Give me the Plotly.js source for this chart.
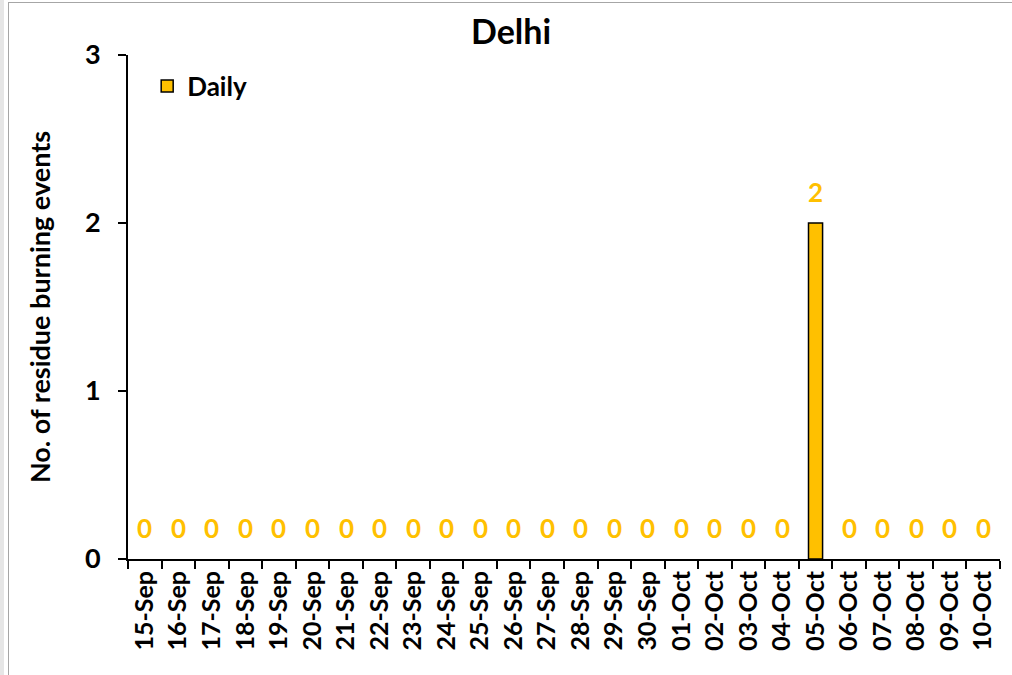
<!DOCTYPE html>
<html>
<head>
<meta charset="utf-8">
<script src="https://cdn.plot.ly/plotly-3.0.1.min.js"></script>
<style>
html,body{margin:0;padding:0;background:#fff;}
#wrap{position:relative;width:1012px;height:675px;}
#chart{width:1012px;height:675px;}
#frame{position:absolute;left:8px;top:2px;width:1010px;height:680px;border:1px solid #a6a6a6;pointer-events:none;box-sizing:border-box;}
#strip{position:absolute;left:0;top:0;width:4px;height:675px;background:#e6e6e6;}
</style>
</head>
<body>
<div id="wrap">
<div id="chart"></div>
<div id="strip"></div>
<div id="frame"></div>
</div>
<script>
const categories = ["15-Sep","16-Sep","17-Sep","18-Sep","19-Sep","20-Sep","21-Sep","22-Sep","23-Sep","24-Sep","25-Sep","26-Sep","27-Sep","28-Sep","29-Sep","30-Sep","01-Oct","02-Oct","03-Oct","04-Oct","05-Oct","06-Oct","07-Oct","08-Oct","09-Oct","10-Oct"];
const dailyValues = [0,0,0,0,0,0,0,0,0,0,0,0,0,0,0,0,0,0,0,0,2,0,0,0,0,0];
const yTicks = [0,1,2,3];
const seriesName = "Daily";
const chartTitle = "Delhi";
const yTitle = "No. of residue burning events";

const FONT = "Lato, 'Open Sans', sans-serif";
const GOLD = "#FFC000";

const trace = {
  type: "bar",
  x: categories,
  y: dailyValues,
  name: seriesName,
  showlegend: false,
  width: 0.42,
  marker: {color: GOLD, line: {color: "#000", width: dailyValues.map(v => v > 0 ? 1.5 : 0)}},
  hoverinfo: "x+y"
};

// legend entry for the same series (no visible marks of its own)
const legendTrace = {
  type: "bar",
  x: [categories[0]],
  y: [null],
  name: seriesName,
  showlegend: true,
  marker: {color: GOLD, line: {color: "#000", width: 1.5}},
  hoverinfo: "skip"
};

const annotations = categories.map((c, i) => ({
  x: c, y: dailyValues[i], xref: "x", yref: "y",
  text: "<b>" + String(dailyValues[i]) + "</b>",
  showarrow: false, yanchor: "bottom", yshift: 13,
  font: {family: FONT, size: 26, color: GOLD}
}));

const layout = {
  width: 1012, height: 675,
  margin: {l: 128, r: 12, t: 55, b: 116, pad: 0},
  paper_bgcolor: "#fff", plot_bgcolor: "#fff",
  title: {text: "<b>" + chartTitle + "</b>", x: 0.505, xanchor: "center", y: 0.953, yanchor: "middle",
          font: {family: FONT, size: 34, color: "#000"}},
  showlegend: true,
  barmode: "overlay",
  legend: {x: 0.022, y: 0.985, xanchor: "left", yanchor: "top", bgcolor: "rgba(0,0,0,0)",
           font: {family: FONT, size: 26, color: "#000", weight: "bold"}, itemwidth: 30},
  xaxis: {
    type: "category", tickson: "boundaries", ticks: "outside", ticklen: 8, tickwidth: 2, tickcolor: "#000",
    showline: true, linecolor: "#000", linewidth: 2, showgrid: false, zeroline: false,
    tickangle: -90, tickfont: {family: FONT, size: 25, color: "#000", weight: "bold"},
    fixedrange: true
  },
  yaxis: {
    range: [0, 3], tickvals: yTicks, ticks: "outside", ticklen: 8, tickwidth: 2, tickcolor: "#000",
    showline: true, linecolor: "#000", linewidth: 2, showgrid: false, zeroline: false,
    tickfont: {family: FONT, size: 27, color: "#000", weight: "bold"}, ticklabelstandoff: 12,
    title: {text: "<b>" + yTitle + "</b>", font: {family: FONT, size: 27, color: "#000"}, standoff: 26},
    fixedrange: true
  },
  annotations: annotations,
  bargap: 0.58
};

Plotly.newPlot("chart", [trace, legendTrace], layout, {displayModeBar: false, staticPlot: true});
</script>
</body>
</html>
